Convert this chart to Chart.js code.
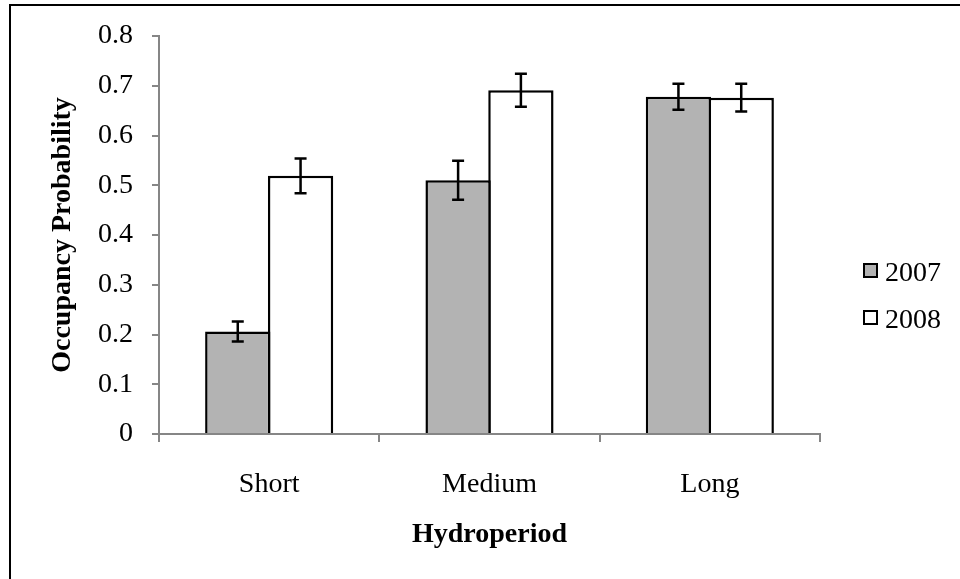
<!DOCTYPE html>
<html lang="en">
<head>
    <meta charset="UTF-8">
    <title>Occupancy Probability by Hydroperiod</title>
    <script src="https://cdn.jsdelivr.net/npm/chart.js"></script>
</head>
<body>
    <div class="frame"></div>
    <canvas id="occChart" width="960" height="579"></canvas>

    <!-- Legend -->
    <div class="legend">
        <div class="legend-item" style="top:263px">
            <span class="swatch" style="background:#b3b3b3"></span>
            <span class="label">2007</span>
        </div>
        <div class="legend-item" style="top:310px">
            <span class="swatch" style="background:#ffffff"></span>
            <span class="label">2008</span>
        </div>
    </div>

    <style>
        html, body {
            margin: 0;
            padding: 0;
            width: 960px;
            height: 579px;
            overflow: hidden;
            background: #ffffff;
        }

        #occChart {
            position: absolute;
            left: 0;
            top: 0;
        }

        .frame {
            position: absolute;
            left: 9px;
            top: 4px;
            width: 1000px;
            height: 700px;
            border: 2px solid #000;
        }

        .legend-item {
            position: absolute;
            left: 863px;
            height: 24px;
        }

        .swatch {
            position: absolute;
            left: 0;
            top: 0;
            width: 15px;
            height: 15px;
            box-sizing: border-box;
            border: 2.5px solid #000;
        }

        .label {
            position: absolute;
            left: 22px;
            top: -5px;
            font-family: 'Liberation Serif', 'Times New Roman', serif;
            font-size: 28px;
            line-height: 28px;
            color: #000;
        }
    </style>

    <script>
        const categories = ['Short', 'Medium', 'Long'];
        const occ2007 = [0.206, 0.510, 0.678];
        const occ2008 = [0.519, 0.691, 0.676];
        const err2007 = [0.020, 0.039, 0.026];
        const err2008 = [0.035, 0.033, 0.028];
        const yTickLabels = ['0', '0.1', '0.2', '0.3', '0.4', '0.5', '0.6', '0.7', '0.8'];

        const serif = "'Liberation Serif', 'Times New Roman', serif";
        const axisGrey = '#868686';

        // error bars drawn from the dataset values through the y scale
        const errorBars = {
            id: 'errorBars',
            afterDatasetsDraw(chart) {
                const ctx = chart.ctx;
                const y = chart.scales.y;
                ctx.save();
                ctx.strokeStyle = '#000';
                ctx.lineWidth = 2.5;
                chart.data.datasets.forEach((ds, d) => {
                    const meta = chart.getDatasetMeta(d);
                    meta.data.forEach((bar, i) => {
                        const v = ds.data[i];
                        const e = ds.errors[i];
                        const top = y.getPixelForValue(v + e);
                        const bot = y.getPixelForValue(v - e);
                        const cap = 6;
                        ctx.beginPath();
                        ctx.moveTo(bar.x, top);
                        ctx.lineTo(bar.x, bot);
                        ctx.moveTo(bar.x - cap, top);
                        ctx.lineTo(bar.x + cap, top);
                        ctx.moveTo(bar.x - cap, bot);
                        ctx.lineTo(bar.x + cap, bot);
                        ctx.stroke();
                    });
                });
                ctx.restore();
            }
        };

        new Chart(document.getElementById('occChart'), {
            type: 'bar',
            data: {
                labels: categories,
                datasets: [{
                    label: '2007',
                    data: occ2007,
                    errors: err2007,
                    backgroundColor: '#b3b3b3',
                    borderColor: '#000',
                    borderWidth: 2.5,
                    borderSkipped: 'start'
                }, {
                    label: '2008',
                    data: occ2008,
                    errors: err2008,
                    backgroundColor: '#ffffff',
                    borderColor: '#000',
                    borderWidth: 2.5,
                    borderSkipped: 'start'
                }]
            },
            options: {
                responsive: false,
                animation: false,
                datasets: {
                    bar: {
                        categoryPercentage: 0.57,
                        barPercentage: 1.04
                    }
                },
                layout: {
                    padding: { top: 36, right: 140, left: 0, bottom: 0 }
                },
                plugins: {
                    legend: { display: false },
                    tooltip: { enabled: false }
                },
                scales: {
                    x: {
                        afterFit(scale) { scale.height = 145; },
                        grid: {
                            offset: true,
                            drawOnChartArea: false,
                            tickLength: 8,
                            color: axisGrey,
                            lineWidth: 2
                        },
                        border: { color: axisGrey, width: 2 },
                        ticks: {
                            color: '#000',
                            padding: 26,
                            font: { family: serif, size: 28 }
                        },
                        title: {
                            display: true,
                            text: 'Hydroperiod',
                            color: '#000',
                            padding: { top: 0, bottom: 27 },
                            font: { family: serif, size: 28, weight: 'bold' }
                        }
                    },
                    y: {
                        min: 0,
                        max: 0.8,
                        afterFit(scale) { scale.width = 159; },
                        grid: {
                            drawOnChartArea: false,
                            tickLength: 7,
                            color: axisGrey,
                            lineWidth: 2
                        },
                        border: { color: axisGrey, width: 2 },
                        ticks: {
                            stepSize: 0.1,
                            color: '#000',
                            padding: 19,
                            font: { family: serif, size: 28 },
                            callback: (v, i) => yTickLabels[i]
                        },
                        title: {
                            display: true,
                            text: 'Occupancy Probability',
                            color: '#000',
                            padding: { top: 46, bottom: 0 },
                            font: { family: serif, size: 28, weight: 'bold' }
                        }
                    }
                }
            },
            plugins: [errorBars]
        });
    </script>
</body>
</html>
